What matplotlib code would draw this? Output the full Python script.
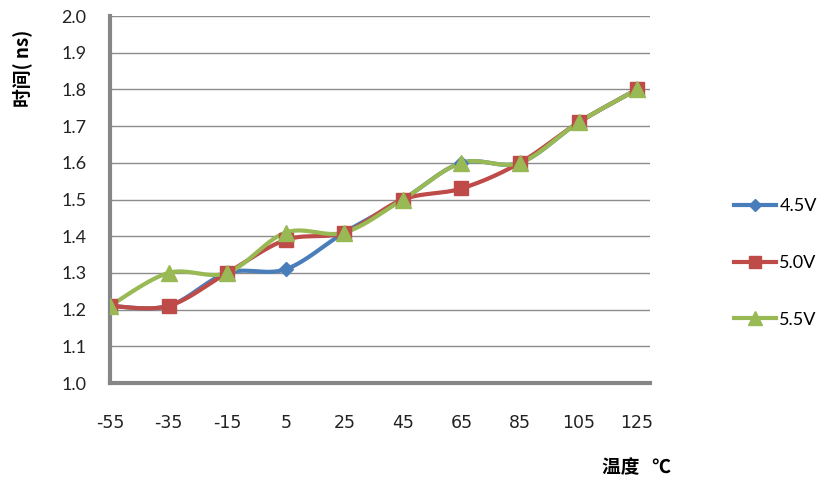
import numpy as np
import matplotlib
matplotlib.use("Agg")
import matplotlib.pyplot as plt
from matplotlib.lines import Line2D

temps = ["-55", "-35", "-15", "5", "25", "45", "65", "85", "105", "125"]
v45 = [1.21, 1.21, 1.30, 1.31, 1.41, 1.50, 1.60, 1.60, 1.71, 1.80]
v50 = [1.21, 1.21, 1.30, 1.39, 1.41, 1.50, 1.53, 1.60, 1.71, 1.80]
v55 = [1.21, 1.30, 1.30, 1.41, 1.41, 1.50, 1.60, 1.60, 1.71, 1.80]
series_names = ["4.5V", "5.0V", "5.5V"]
yticks = [1.0, 1.1, 1.2, 1.3, 1.4, 1.5, 1.6, 1.7, 1.8, 1.9, 2.0]

colors = ["#4A7EBB", "#BE4B48", "#98B954"]
markers = ["D", "s", "^"]
msizes = [7, 10, 11]

plt.rcParams['font.family'] = ['Lato', 'DejaVu Sans']


def smooth(x, y, n=30):
    x = np.asarray(x, float); y = np.asarray(y, float)
    P = np.column_stack([x, y])
    out = []
    for i in range(len(P) - 1):
        p0 = P[i - 1] if i > 0 else P[i]
        p1 = P[i]; p2 = P[i + 1]
        p3 = P[i + 2] if i + 2 < len(P) else P[i + 1]
        c1 = p1 + (p2 - p0) / 6.0
        c2 = p2 - (p3 - p1) / 6.0
        t = np.linspace(0, 1, n)[:, None]
        seg = (1 - t) ** 3 * p1 + 3 * (1 - t) ** 2 * t * c1 + 3 * (1 - t) * t ** 2 * c2 + t ** 3 * p2
        out.append(seg if i == 0 else seg[1:])
    s = np.vstack(out)
    return s[:, 0], s[:, 1]


fig = plt.figure(figsize=(8.22, 4.86), dpi=100)
ax = fig.add_axes([110 / 822, (486 - 383) / 486, (650 - 110) / 822, (383 - 16) / 486])

xs = np.arange(len(temps))
for vals, c, m, ms in zip([v45, v50, v55], colors, markers, msizes):
    sx, sy = smooth(xs, vals)
    ax.plot(sx, sy, color=c, lw=3, solid_capstyle='round', zorder=3)
    ax.plot(xs, vals, linestyle='none', marker=m, ms=ms, color=c, mec=c, zorder=4)

ax.set_xlim(0, 9.22)
ax.set_ylim(1.0, 2.0)
ax.set_yticks(yticks)
ax.set_yticklabels([f"{v:.1f}" for v in yticks], fontsize=13, color="#222222")
ax.set_xticks(xs)
ax.set_xticklabels(temps, fontsize=12.5, color="#222222", family=['DejaVu Sans'])
ax.tick_params(axis='x', length=0, pad=22)
ax.tick_params(axis='y', length=0, pad=17)
ax.grid(axis='y', color='#8C8C8C', lw=1)
ax.set_axisbelow(True)
for s in ['top', 'right']:
    ax.spines[s].set_visible(False)
for s in ['left', 'bottom']:
    ax.spines[s].set_color('#868686')
    ax.spines[s].set_linewidth(3)

fig.text(22 / 822, 1 - 68 / 486, "时间( ns)", rotation=90, ha='center', va='center',
         fontsize=13.5, fontweight='bold', family=['Noto Sans CJK SC', 'DejaVu Sans'])
fig.text(636 / 822, 1 - 468 / 486, "温度   ℃", ha='center', va='center',
         fontsize=13.5, fontweight='bold', family=['Noto Sans CJK SC', 'DejaVu Sans'])

handles = [Line2D([0], [0], color=c, lw=3, marker=m, ms=ms * 0.9, mec=c)
           for c, m, ms in zip(colors, markers, msizes)]
leg = fig.legend(handles, series_names, loc='center left', bbox_to_anchor=(718 / 822, 1 - 263 / 486),
                 frameon=False, fontsize=13, handlelength=2.3, labelspacing=2.25, handletextpad=0.2)

fig.savefig("out.png", dpi=100, facecolor='white')
